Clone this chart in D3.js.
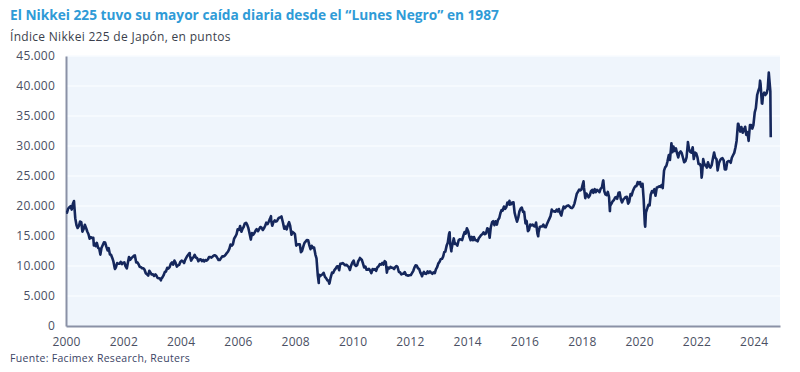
<!DOCTYPE html>
<html>
<head>
<meta charset="utf-8">
<script src="https://cdn.jsdelivr.net/npm/d3@7/dist/d3.min.js"></script>
<style>
  body { margin: 0; background: #fff; }
  svg { display: block; font-family: "Open Sans", sans-serif; }
</style>
</head>
<body>
<div id="chart"></div>
<script>
// month-end closes of the Nikkei 225, one array per year (Jan..Dec)
const y2000 = [19540, 19960, 20337, 17973, 16332, 17411, 15727, 16861, 15747, 14539, 14648, 13785];
const y2001 = [13843, 12883, 12999, 13934, 13262, 12969, 11860, 10713, 9774, 10366, 10697, 10542];
const y2002 = [9997, 10587, 11024, 11492, 11763, 10621, 9877, 9619, 9383, 8640, 9215, 8578];
const y2003 = [8339, 8363, 7972, 7831, 8424, 9083, 9563, 10343, 10219, 10559, 10100, 10677];
const y2004 = [10783, 11041, 11715, 11761, 11236, 11858, 11325, 11081, 10823, 10771, 10899, 11488];
const y2005 = [11387, 11740, 11668, 11008, 11276, 11584, 11899, 12413, 13574, 13606, 14872, 16111];
const y2006 = [16649, 16205, 17059, 16906, 15467, 15505, 15457, 16140, 16127, 16399, 16274, 17225];
const y2007 = [17383, 17604, 17287, 17400, 17875, 18138, 17248, 16569, 16785, 16737, 15680, 15307];
const y2008 = [13592, 13603, 12525, 13849, 14338, 13481, 13376, 13072, 11259, 8576, 8512, 8859];
const y2009 = [7994, 7568, 8109, 8828, 9522, 9958, 10356, 10492, 10133, 10034, 9345, 10546];
const y2010 = [10198, 10126, 11089, 11057, 9768, 9382, 9537, 8824, 9369, 9202, 9937, 10228];
const y2011 = [10237, 10624, 9755, 9849, 9693, 9816, 9833, 8955, 8700, 8988, 8434, 8455];
const y2012 = [8802, 9723, 10083, 9520, 8542, 9006, 8695, 8839, 8870, 8928, 9446, 10395];
const y2013 = [11138, 11559, 12397, 13860, 13775, 13677, 13668, 13389, 14456, 14327, 15662, 16291];
const y2014 = [14915, 14841, 14828, 14304, 14632, 15162, 15621, 15425, 16174, 16414, 17460, 17451];
const y2015 = [17674, 18798, 19207, 19520, 20563, 20236, 20585, 18890, 17388, 19083, 19747, 19034];
const y2016 = [17518, 16027, 16759, 16666, 17235, 15576, 16569, 16887, 16450, 17425, 18308, 19114];
const y2017 = [19041, 19119, 18909, 19197, 19650, 20033, 19925, 19646, 20356, 22012, 22725, 22765];
const y2018 = [23098, 22068, 21454, 22468, 22202, 22305, 22554, 22865, 24120, 21920, 22351, 20015];
const y2019 = [20773, 21385, 21206, 22259, 20601, 21276, 21522, 20704, 21756, 22927, 23294, 23657];
const y2020 = [23205, 21143, 18917, 20194, 21878, 22288, 21710, 23140, 23185, 22977, 26434, 27444];
const y2021 = [27663, 28966, 29179, 28813, 28860, 28792, 27284, 28090, 29453, 28893, 27822, 28792];
const y2022 = [27002, 26527, 27821, 26848, 27280, 26393, 27802, 28092, 25937, 27587, 27969, 26095];
const y2023 = [27327, 27446, 28041, 28856, 30888, 33189, 33172, 32619, 31858, 30859, 33487, 33464];
const y2024 = [36287, 39166, 40369, 38406, 38488, 39583];

// mid-month levels, one array per year (Jan..Dec)
const m2000 = [18900, 19800, 19400, 20400, 16800, 16700, 17300, 16200, 16300, 15300, 14800, 14700];
const m2001 = [13300, 13000, 11900, 13500, 13900, 12600, 11900, 11300, 9600, 10500, 10400, 10300];
const m2002 = [10600, 9600, 11500, 11300, 11700, 10600, 10300, 9800, 9600, 8800, 8400, 8900];
const m2003 = [8600, 8600, 8000, 7900, 8100, 9000, 9700, 9800, 10600, 10900, 9900, 10200];
const m2004 = [10900, 10500, 11400, 12000, 10900, 11500, 11400, 10800, 11100, 11000, 11000, 11100];
const m2005 = [11500, 11600, 11800, 11300, 11000, 11600, 11700, 12200, 12900, 13400, 14600, 15300];
const m2006 = [16000, 15700, 16500, 17200, 16300, 14400, 15200, 15900, 15800, 16500, 16000, 16700];
const m2007 = [17000, 17900, 16700, 17600, 17500, 18100, 18000, 16200, 16100, 17300, 15200, 15500];
const m2008 = [13400, 13600, 12300, 13300, 14100, 14300, 12800, 13000, 11900, 8500, 8300, 8600];
const m2009 = [8200, 7600, 7200, 8900, 9300, 9900, 9300, 10400, 10300, 10200, 9800, 10100];
const m2010 = [10900, 10000, 10800, 11200, 10400, 9900, 9400, 9200, 9500, 9500, 9800, 10300];
const m2011 = [10500, 10800, 8900, 9600, 9700, 9500, 10000, 9000, 8600, 8700, 8500, 8400];
const m2012 = [8500, 9200, 10100, 9600, 8900, 8700, 8700, 9100, 9100, 8700, 8800, 9800];
const m2013 = [10700, 11200, 12300, 13400, 15300, 12700, 14600, 13700, 14300, 14400, 15100, 15400];
const m2014 = [15800, 14300, 14300, 14300, 14100, 14900, 15300, 15300, 16300, 14700, 17300, 16800];
const m2015 = [16900, 18000, 19300, 19900, 19800, 20300, 20300, 20600, 18000, 18100, 19600, 19000];
const m2016 = [17100, 15800, 16900, 16900, 16600, 15400, 16500, 16600, 16500, 17000, 17900, 19400];
const m2017 = [19100, 19400, 19500, 18400, 19900, 19900, 20100, 19700, 19900, 21200, 22400, 22600];
const m2018 = [23700, 21300, 21800, 21800, 22700, 22800, 22700, 22300, 23100, 22500, 21800, 21500];
const m2019 = [20400, 21000, 21500, 22200, 21100, 21100, 21500, 20400, 22000, 22500, 23300, 24000];
const m2020 = [24000, 23700, 17000, 19600, 20100, 22500, 22800, 23100, 23300, 23500, 25900, 26700];
const m2021 = [28500, 30100, 29900, 29600, 28100, 29100, 28000, 27500, 30500, 29000, 29800, 28900];
const m2022 = [28100, 27000, 25300, 26800, 26400, 26600, 26800, 28900, 27800, 27100, 27900, 27600];
const m2023 = [26100, 27500, 27200, 28500, 29800, 33700, 32400, 32200, 33200, 32300, 33500, 32900];
const m2024 = [35600, 38500, 39700, 37100, 38900, 38800];

// intra-month extremes that the daily series shows
const extremes = [
  ["2000-01-04", 18937], ["2000-04-12", 20833], ["2000-12-21", 13423],
  ["2001-09-17", 9504], ["2003-04-25", 7607], ["2004-04-26", 12163],
  ["2007-02-26", 18300], ["2007-07-09", 18261], ["2008-10-27", 7162],
  ["2009-03-10", 7054], ["2010-04-05", 11339], ["2012-06-04", 8295],
  ["2013-05-22", 15627], ["2013-06-13", 12445], ["2015-06-24", 20868],
  ["2016-06-24", 14952], ["2018-01-23", 24124], ["2018-10-02", 24270],
  ["2018-12-25", 19155], ["2020-03-19", 16552], ["2021-02-16", 30467],
  ["2021-09-14", 30670], ["2022-03-08", 24717], ["2023-06-19", 33706],
  ["2024-03-22", 40888], ["2024-04-19", 37068], ["2024-07-11", 42224],
  ["2024-07-31", 39102], ["2024-08-02", 35909], ["2024-08-05", 31458]
];

const yTicks = [0, 5000, 10000, 15000, 20000, 25000, 30000, 35000, 40000, 45000];
const xTicks = [2000, 2002, 2004, 2006, 2008, 2010, 2012, 2014, 2016, 2018, 2020, 2022, 2024];

const closes = [y2000, y2001, y2002, y2003, y2004, y2005, y2006, y2007, y2008, y2009, y2010, y2011, y2012,
  y2013, y2014, y2015, y2016, y2017, y2018, y2019, y2020, y2021, y2022, y2023, y2024];
const mids = [m2000, m2001, m2002, m2003, m2004, m2005, m2006, m2007, m2008, m2009, m2010, m2011, m2012,
  m2013, m2014, m2015, m2016, m2017, m2018, m2019, m2020, m2021, m2022, m2023, m2024];

let data = [];
closes.forEach((arr, i) => {
  arr.forEach((v, m) => data.push({ date: new Date(2000 + i, m, 28), value: v }));
});
mids.forEach((arr, i) => {
  arr.forEach((v, m) => data.push({ date: new Date(2000 + i, m, 14), value: v }));
});
extremes.forEach(d => data.push({ date: d3.timeParse("%Y-%m-%d")(d[0]), value: d[1] }));
data.sort((a, b) => a.date - b.date);

const width = 800, height = 372;
const margin = { top: 56, right: 20, bottom: 46, left: 66 };

const svg = d3.select("#chart").append("svg")
  .attr("width", width)
  .attr("height", height);

const xScale = d3.scaleTime()
  .domain([new Date(2000, 0, 1), new Date(2024, 11, 1)])
  .range([margin.left, width - margin.right]);

const yScale = d3.scaleLinear()
  .domain([0, 45000])
  .range([height - margin.bottom, margin.top]);

// plot background and faint gridlines
svg.append("rect")
  .attr("x", margin.left)
  .attr("y", margin.top)
  .attr("width", width - margin.right - margin.left)
  .attr("height", height - margin.bottom - margin.top)
  .attr("fill", "#eff5fc");

svg.append("g").selectAll("line")
  .data(yTicks.slice(1))
  .enter().append("line")
  .attr("x1", margin.left)
  .attr("x2", width - margin.right)
  .attr("y1", d => yScale(d))
  .attr("y2", d => yScale(d))
  .attr("stroke", "#f8fbff")
  .attr("stroke-width", 1.5);

// titles
svg.append("text")
  .attr("x", 10).attr("y", 20)
  .attr("fill", "#2f9bd7")
  .attr("font-weight", 700)
  .attr("font-size", 13.7)
  .text("El Nikkei 225 tuvo su mayor caída diaria desde el “Lunes Negro” en 1987");

svg.append("text")
  .attr("x", 10).attr("y", 41)
  .attr("fill", "#3b3f4c")
  .attr("font-size", 12)
  .attr("letter-spacing", 0.3)
  .text("Índice Nikkei 225 de Japón, en puntos");

svg.append("text")
  .attr("x", 10).attr("y", 362)
  .attr("fill", "#3b4465")
  .attr("font-size", 10.5)
  .attr("letter-spacing", 0.3)
  .text("Fuente: Facimex Research, Reuters");

// axes
const fmt = d => d3.format(",")(d).replace(/,/g, ".");

const yAxis = svg.append("g")
  .attr("transform", "translate(" + margin.left + ",0)")
  .call(d3.axisLeft(yScale).tickValues(yTicks).tickFormat(fmt).tickSize(0).tickPadding(11));

const xAxis = svg.append("g")
  .attr("transform", "translate(0," + (height - margin.bottom) + ")")
  .call(d3.axisBottom(xScale)
    .tickValues(xTicks.map(y => new Date(y, 0, 1)))
    .tickFormat(d3.timeFormat("%Y"))
    .tickSize(0).tickPadding(11));

[xAxis, yAxis].forEach(a => {
  a.select(".domain").attr("stroke", "#8a91a6").attr("stroke-width", 2);
  a.selectAll("text")
    .attr("fill", "#4a4f63")
    .attr("font-size", 12)
    .attr("letter-spacing", 0.2)
    .attr("font-family", "'Open Sans', sans-serif");
});

// the index line
const line = d3.line()
  .x(d => xScale(d.date))
  .y(d => yScale(d.value));

svg.append("path")
  .datum(data)
  .attr("fill", "none")
  .attr("stroke", "#15275c")
  .attr("stroke-width", 2.6)
  .attr("stroke-linejoin", "round")
  .attr("d", line);
</script>
</body>
</html>
